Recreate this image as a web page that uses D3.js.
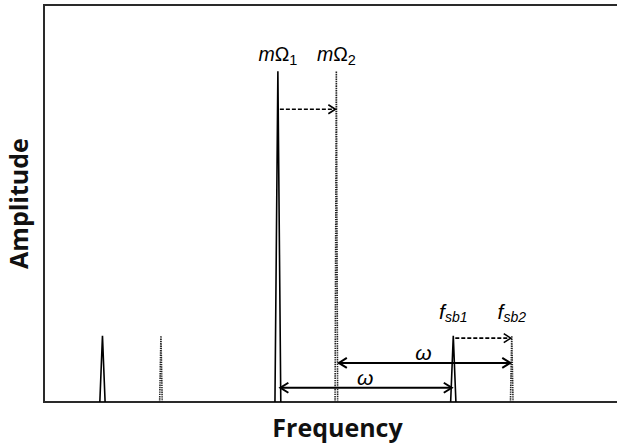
<!DOCTYPE html>
<html>
<head>
<meta charset="utf-8">
<script src="https://cdn.jsdelivr.net/npm/d3@7/dist/d3.min.js"></script>
<style>
  html, body { margin: 0; padding: 0; background: #fff; }
  svg { display: block; }
</style>
</head>
<body>
<svg id="chart" width="617" height="443"></svg>
<script>
// Spectral peaks: frequency position (in units of the small shift) and amplitude
const peakFreqs = [1, 2, 4, 5, 7, 8];
const peakAmps  = [0.2, 0.2, 1.0, 1.0, 0.2, 0.2];
// state 1 = before shift (solid), state 2 = after shift (dotted)
const peakState = [1, 2, 1, 2, 1, 2];

// Peak labels: italic main symbol, upright symbol, subscript
const labelPeaks   = [4, 5, 7, 8];
const labelMain    = ["m", "m", "f", "f"];
const labelUpright = ["Ω", "Ω", "", ""];
const labelSub     = ["1", "2", "sb1", "sb2"];

// Dashed shift arrows (from peak -> to peak, drawn at amplitude level)
const shiftFrom = [4, 7];
const shiftTo   = [5, 8];
const shiftAmp  = [0.885, 0.193];

// Double-headed ω spacing arrows
const omegaFrom = [4, 5];
const omegaTo   = [7, 8];
const omegaAmp  = [0.043, 0.118];

const svg = d3.select("#chart");
const W = 617, H = 443;
const plot = { left: 44, top: 5, right: 617, bottom: 402 };

const x = d3.scaleLinear().domain([0, 9.8]).range([plot.left, plot.right]);
const y = d3.scaleLinear().domain([0, 1.2]).range([plot.bottom, plot.top]);

// Frame: top, left and bottom edges
svg.append("path")
  .attr("d", `M${W},${plot.top} H${plot.left} V${plot.bottom} H${W}`)
  .attr("fill", "none")
  .attr("stroke", "#2a2a2a")
  .attr("stroke-width", 2);

// Peaks drawn as narrow triangles
const halfWidth = i => (peakAmps[i] > 0.5 ? 0.05 : 0.045);
const peaks = d3.range(peakFreqs.length);
svg.append("g").selectAll("path")
  .data(peaks)
  .join("path")
  .attr("d", i => {
    const hw = peakState[i] === 1 ? halfWidth(i) : 0.022;
    const p = d3.path();
    p.moveTo(x(peakFreqs[i] - hw), y(0));
    p.lineTo(x(peakFreqs[i]), y(peakAmps[i]));
    p.lineTo(x(peakFreqs[i] + hw), y(0));
    return p.toString();
  })
  .attr("fill", "none")
  .attr("stroke", i => peakState[i] === 1 ? "#000" : "#222")
  .attr("stroke-width", i => peakState[i] === 1 ? 1.6 : 1.6)
  .attr("stroke-dasharray", i => peakState[i] === 1 ? null : "1.4,0.9");

// Arrow helper: open chevron head
function chevron(g, xt, yt, dir, len, half, width) {
  g.append("path")
    .attr("d", `M${xt - dir * len},${yt - half} L${xt},${yt} L${xt - dir * len},${yt + half}`)
    .attr("fill", "none")
    .attr("stroke", "#000")
    .attr("stroke-width", width)
    .attr("stroke-linejoin", "miter");
}

// Dashed shift arrows
const shiftG = svg.append("g");
shiftFrom.forEach((f, i) => {
  const x0 = x(f) + 2, x1 = x(shiftTo[i]) - 1, yy = y(shiftAmp[i]);
  shiftG.append("line")
    .attr("x1", x0).attr("x2", x1 - 2)
    .attr("y1", yy).attr("y2", yy)
    .attr("stroke", "#000")
    .attr("stroke-width", 1.6)
    .attr("stroke-dasharray", "4,2");
  chevron(shiftG, x1, yy, 1, 7, 4.5, 1.6);
});

// ω spacing arrows with labels
const omegaG = svg.append("g");
omegaFrom.forEach((f, i) => {
  const x0 = x(f) + 2.5, x1 = x(omegaTo[i]) - 1.5, yy = y(omegaAmp[i]);
  omegaG.append("line")
    .attr("x1", x0).attr("x2", x1)
    .attr("y1", yy).attr("y2", yy)
    .attr("stroke", "#000")
    .attr("stroke-width", 2);
  chevron(omegaG, x0, yy, -1, 8, 5, 2);
  chevron(omegaG, x1, yy, 1, 8, 5, 2);
  omegaG.append("text")
    .attr("x", (x0 + x1) / 2 - 1)
    .attr("y", yy - 3)
    .attr("text-anchor", "middle")
    .attr("font-family", "Liberation Sans, Arial, sans-serif")
    .attr("font-style", "italic")
    .attr("font-size", 21)
    .attr("fill", "#000")
    .text("ω");
});

// Peak labels
const labG = svg.append("g")
  .attr("font-family", "Liberation Sans, Arial, sans-serif")
  .attr("fill", "#000");
labelPeaks.forEach((pk, i) => {
  const idx = peakFreqs.indexOf(pk);
  const isBig = peakAmps[idx] > 0.5;
  const t = labG.append("text")
    .attr("x", x(pk))
    .attr("y", y(peakAmps[idx]) - (isBig ? 10 : 17))
    .attr("text-anchor", "middle")
    .attr("font-size", isBig ? 19.5 : 21);
  t.append("tspan").attr("font-style", "italic").text(labelMain[i]);
  if (labelUpright[i]) t.append("tspan").text(labelUpright[i]);
  t.append("tspan")
    .attr("font-size", isBig ? 14.5 : 14)
    .attr("dy", isBig ? 4 : 3)
    .attr("font-style", labelUpright[i] ? "normal" : "italic")
    .text(labelSub[i]);
});

// Axis titles
svg.append("text")
  .attr("x", (plot.left + 617) / 2 + 7)
  .attr("y", 437)
  .attr("text-anchor", "middle")
  .attr("font-family", "Open Sans, sans-serif")
  .attr("font-weight", "bold")
  .attr("font-size", 25)
  .attr("fill", "#111")
  .text("Frequency");

svg.append("text")
  .attr("transform", `translate(28,${(plot.top + plot.bottom) / 2}) rotate(-90)`)
  .attr("text-anchor", "middle")
  .attr("font-family", "Open Sans, sans-serif")
  .attr("font-weight", "bold")
  .attr("font-size", 25)
  .attr("fill", "#111")
  .text("Amplitude");
</script>
</body>
</html>
